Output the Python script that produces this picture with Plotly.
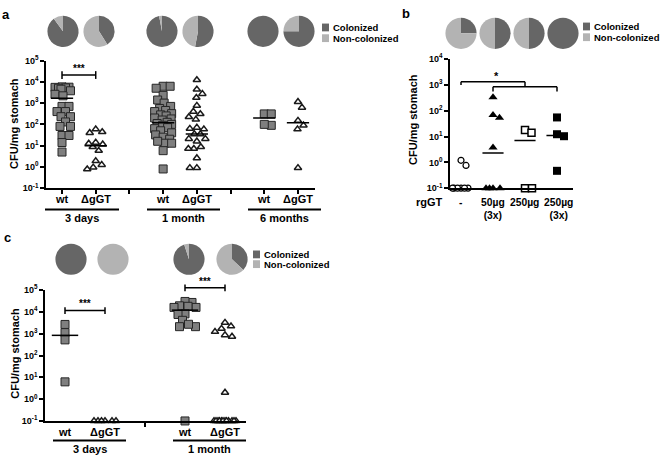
import math
import numpy as np
import plotly.graph_objects as go

W, H = 660, 462
FONT = "Liberation Sans"
DARK = "#666666"
LIGHT = "#b3b3b3"

# ---------------- data ----------------
# panel a : CFU/mg stomach
a_ticklabels = ["wt", "ΔgGT", "wt", "ΔgGT", "wt", "ΔgGT"]
a_groups = ["3 days", "1 month", "6 months"]
a_wt_3d = [5800, 5600, 5500, 5200, 5000, 4500, 3800, 2600, 2200, 700, 700, 400, 400,
           230, 230, 130, 80, 80, 30, 30, 14, 5]
a_dg_3d = [59, 40, 44, 11.5, 14, 12.5, 8.7, 5.8, 1.26, 1.9, 0.95, 0.78]
a_wt_1m = [6200, 5000, 6200, 2300, 1400, 1000, 700, 560, 450, 400, 320, 280, 250, 200,
           180, 160, 125, 110, 100, 90, 70, 63, 50, 40, 32, 25, 20, 13, 16, 13, 5.8, 0.8]
a_dg_1m = [12300, 4400, 2750, 1800, 760, 400, 310, 224, 170, 71, 63, 59, 35, 35, 21, 21,
           16, 8.7, 7.2, 7.2, 2.6, 0.9, 0.9]
a_wt_6m = [310, 310, 90, 100]
a_dg_6m = [1150, 620, 150, 90, 59, 0.9]
a_medians = [1700, 10, 120, 35, 200, 120]
a_pie_col = [90, 41, 97, 53, 100, 75]          # % colonized

# panel b
b_ticklabels = ["-", "50µg<br>(3x)", "250µg", "250µg<br>(3x)"]
b_none = [1.2, 0.76, 0.1, 0.1, 0.1, 0.1, 0.1, 0.1]
b_50x3 = [330, 68, 53, 3.8, 0.1, 0.1, 0.1, 0.1]
b_250 = [18, 14, 0.1, 0.1]
b_250x3 = [55, 12.3, 10.3, 0.47]
b_medians = [None, 2.3, 7, 11]
b_pie_col = [25, 50, 50, 100]

# panel c
c_ticklabels = ["wt", "ΔgGT", "wt", "ΔgGT"]
c_groups = ["3 days", "1 month"]
c_wt_3d = [2650, 1120, 520, 6.2]
c_dg_3d = [0.1, 0.1, 0.1, 0.1, 0.1, 0.1]
c_wt_1m = [27000, 30000, 16000, 18000, 19000, 16000, 8100, 7600, 4100, 2100, 2100, 2700, 0.1]
c_dg_1m = [2200, 1700, 3200, 1230, 740, 870, 2.0,
           0.1, 0.1, 0.1, 0.1, 0.1, 0.1, 0.1, 0.1, 0.1, 0.1, 0.1, 0.1]
c_medians = [840, None, 12000, None]
c_pie_col = [100, 0, 95, 37]

# ---------------- geometry helpers ----------------
PA = dict(x0=46, x1=315, xr=(-0.475, 7.505), yb=186, yt=55, yr=(-1, 5), xa="x", ya="y")
PB = dict(x0=450, x1=573, xr=(-0.344, 3.5), yb=186, yt=53.5, yr=(-1, 4), xa="x2", ya="y2")
PC = dict(x0=45, x1=246, xr=(-0.5, 4.525), yb=425, yt=290.6, yr=(-1, 5), xa="x3", ya="y3")


def X(px):
    return px / W


def Y(py):
    return 1 - py / H


def ppx(P):
    return (P["x1"] - P["x0"]) / (P["xr"][1] - P["xr"][0])


def ppy(P):
    return (P["yb"] - P["yt"]) / (P["yr"][1] - P["yr"][0])


def xpaper(P, xv):
    return X(P["x0"] + (xv - P["xr"][0]) * ppx(P))


def ypaper(P, v):
    return Y(P["yb"] - (math.log10(v) - P["yr"][0]) * ppy(P))


def swarm(vals, P, diam=7.0, maxw=8.5):
    sx, sy = ppx(P), ppy(P)
    ys = [math.log10(v) * sy for v in vals]
    order = sorted(range(len(vals)), key=lambda i: -vals[i])
    cands = np.arange(-maxw, maxw + 0.01, 0.5)
    placed = []
    off = [0.0] * len(vals)
    last = 1
    for i in order:
        scores = []
        for c in cands:
            md = min([math.hypot(c - p[0], ys[i] - p[1]) for p in placed], default=1e9)
            scores.append(md)
        free = [(abs(c), -last * np.sign(c), c) for c, s in zip(cands, scores) if s >= diam]
        if free:
            free.sort()
            best = free[0][2]
        else:
            best = cands[int(np.argmax(scores))]
        if best != 0:
            last = np.sign(best)
        off[i] = best / sx
        placed.append((best, ys[i]))
    return off


fig = go.Figure()

GRAY_SQ = dict(symbol="square", size=8, color="#7f7f7f", line=dict(color="#262626", width=1))
OPEN_TRI = dict(symbol="triangle-up", size=6.5, color="white", line=dict(color="#1a1a1a", width=1.5))


def add_points(vals, pos, P, marker, maxw=8.5):
    off = swarm(vals, P, maxw=maxw)
    fig.add_trace(go.Scatter(x=[pos + o for o in off], y=vals, mode="markers", marker=marker,
                             xaxis=P["xa"], yaxis=P["ya"], cliponaxis=False,
                             showlegend=False, hoverinfo="skip"))


def add_median(val, pos, P, half=0.33):
    if val is None:
        return
    fig.add_trace(go.Scatter(x=[pos - half, pos + half], y=[val, val], mode="lines",
                             line=dict(color="black", width=1.5), xaxis=P["xa"], yaxis=P["ya"],
                             showlegend=False, hoverinfo="skip"))


# panel a
for vals, pos, mk in [(a_wt_3d, 0, GRAY_SQ), (a_dg_3d, 1, OPEN_TRI), (a_wt_1m, 3, GRAY_SQ),
                      (a_dg_1m, 4, OPEN_TRI), (a_wt_6m, 6, GRAY_SQ), (a_dg_6m, 7, OPEN_TRI)]:
    add_points(vals, pos, PA, mk)
for m, pos in zip(a_medians, [0, 1, 3, 4, 6, 7]):
    add_median(m, pos, PA)

# panel b
add_points(b_none, 0, PB, dict(symbol="circle", size=6, color="white", line=dict(color="black", width=1.2)))
add_points(b_50x3, 1, PB, dict(symbol="triangle-up", size=8, color="black"))
add_points(b_250, 2, PB, dict(symbol="square", size=7, color="white", line=dict(color="black", width=1.5)))
add_points(b_250x3, 3, PB, dict(symbol="square", size=8, color="black"))
for m, pos in zip(b_medians, [0, 1, 2, 3]):
    add_median(m, pos, PB)

# panel c
for vals, pos, mk in [(c_wt_3d, 0, GRAY_SQ), (c_dg_3d, 1, OPEN_TRI),
                      (c_wt_1m, 3, GRAY_SQ), (c_dg_1m, 4, OPEN_TRI)]:
    add_points(vals, pos, PC, mk, maxw=11)
for m, pos in zip(c_medians, [0, 1, 3, 4]):
    add_median(m, pos, PC)


# pies
def add_pie(cx, cy, col, r=16):
    fig.add_trace(go.Pie(values=[col, 100 - col], labels=["Colonized", "Non-colonized"],
                         marker=dict(colors=[DARK, LIGHT], line=dict(width=0)),
                         sort=False, direction="clockwise", rotation=0, textinfo="none",
                         hoverinfo="skip", showlegend=False,
                         domain=dict(x=[X(cx - r), X(cx + r)], y=[Y(cy + r), Y(cy - r)])))


for cx, col in zip([63, 99, 162, 198, 263, 299], a_pie_col):
    add_pie(cx, 25, col)
for cx, col in zip([461, 495, 529, 563], b_pie_col):
    add_pie(cx, 27, col)
for cx, col in zip([71, 113, 189, 232], c_pie_col):
    add_pie(cx, 259, col)

# ---------------- axes ----------------
YTF = dict(family=FONT, size=9, color="black", weight="bold")


def yaxis_for(P, exps):
    return dict(domain=[Y(P["yb"]), Y(P["yt"])], type="log", range=list(P["yr"]),
                tickvals=[10 ** e for e in exps],
                ticktext=["10<sup>%d</sup>" % e for e in exps],
                ticks="outside", ticklen=4, tickwidth=1.5, tickcolor="black",
                showline=True, linecolor="black", linewidth=1.5,
                showgrid=False, zeroline=False, tickfont=YTF, anchor=P["xa"])


def xaxis_for(P, vals, ticks):
    return dict(domain=[X(P["x0"]), X(P["x1"])], range=list(P["xr"]),
                tickvals=vals, ticks=ticks, ticklen=4, tickwidth=1.5, showticklabels=False,
                tickcolor="black", showline=True, linecolor="black", linewidth=1.5,
                showgrid=False, zeroline=False, anchor=P["ya"])


fig.update_layout(
    width=W, height=H, margin=dict(l=0, r=0, t=0, b=0),
    paper_bgcolor="white", plot_bgcolor="white", hovermode=False,
    font=dict(family=FONT, color="black"),
    xaxis=xaxis_for(PA, list(range(8)), "outside"),
    yaxis=yaxis_for(PA, [-1, 0, 1, 2, 3, 4, 5]),
    xaxis2=xaxis_for(PB, [0, 1, 2, 3], ""),
    yaxis2=yaxis_for(PB, [-1, 0, 1, 2, 3, 4]),
    xaxis3=xaxis_for(PC, [2], "outside"),
    yaxis3=yaxis_for(PC, [-1, 0, 1, 2, 3, 4, 5]),
)

shapes = []
ann = []
BF = lambda s: dict(family=FONT, size=s, color="black", weight="bold")


def line(x0, y0, x1, y1, w=1.5):
    shapes.append(dict(type="line", xref="paper", yref="paper", x0=x0, y0=y0, x1=x1, y1=y1,
                       line=dict(color="black", width=w)))


def text(x, y, s, size=11, xanchor="center", angle=0, yanchor="middle", xref="paper"):
    ann.append(dict(x=x, y=y, xref=xref, yref="paper", text=s, showarrow=False,
                    font=BF(size), xanchor=xanchor, yanchor=yanchor, textangle=angle))


# x tick labels (category names under each column)
for pos, lab in zip([0, 1, 3, 4, 6, 7], a_ticklabels):
    text(pos, Y(197), lab, 11, xref="x")
for pos, lab, sh in zip([0, 1, 2, 3], b_ticklabels, [0, 0, -0.01, 0.06]):
    text(pos + sh, Y(193), lab, 10.3, xref="x2", yanchor="top")
for pos, lab in zip([0, 1, 3, 4], c_ticklabels):
    text(pos, Y(436), lab, 11, xref="x3")

# group underlines + labels
for (l, r), g in zip([(45, 119), (147, 220), (248, 321)], a_groups):
    line(X(l), Y(208), X(r), Y(208), 2)
    text(X((l + r) / 2), Y(217), g)
for (l, r), g in zip([(53, 126), (173, 246)], c_groups):
    line(X(l), Y(445), X(r), Y(445), 2)
    text(X((l + r) / 2), Y(454), g)


# significance brackets (capped)
def capped(P, x0, x1, level, cap_px, stars):
    y = ypaper(P, level)
    c = cap_px / H
    line(xpaper(P, x0), y, xpaper(P, x1), y)
    line(xpaper(P, x0), y - c, xpaper(P, x0), y + c)
    line(xpaper(P, x1), y - c, xpaper(P, x1), y + c)
    text((xpaper(P, x0) + xpaper(P, x1)) / 2, y + 7 / H, stars, 10)


capped(PA, 0, 1, 10 ** 4.32, 4, "***")
capped(PC, 0, 1, 10 ** 4.06, 3.5, "***")
capped(PC, 3, 4, 10 ** 5.1, 3.5, "***")

# panel b hanging brackets
yb1 = ypaper(PB, 10 ** 3.125)
yb2 = ypaper(PB, 10 ** 2.925)
line(xpaper(PB, 0), yb1, xpaper(PB, 2), yb1)
line(xpaper(PB, 0), yb1, xpaper(PB, 0), ypaper(PB, 10 ** 3.0))
line(xpaper(PB, 2), yb1, xpaper(PB, 2), yb2)
line(xpaper(PB, 1), yb2, xpaper(PB, 3), yb2)
line(xpaper(PB, 1), yb2, xpaper(PB, 1), ypaper(PB, 10 ** 2.75))
line(xpaper(PB, 3), yb2, xpaper(PB, 3), ypaper(PB, 10 ** 2.75))
text(xpaper(PB, 1.12), yb1 + 6 / H, "*", 11)

# axis titles
text(X(14), Y(120), "CFU/mg stomach", 11, angle=-90)
text(X(413), Y(116), "CFU/mg stomach", 11, angle=-90)
text(X(15), Y(356), "CFU/mg stomach", 11, angle=-90)
text(X(429), Y(200), "rgGT", 11)

# panel letters
text(X(6), Y(8), "a", 13)
text(X(406), Y(7), "b", 13)
text(X(7), Y(237), "c", 13)


# legends
def legend(x, y1, y2):
    for yy, col, lab in [(y1, DARK, "Colonized"), (y2, LIGHT, "Non-colonized")]:
        shapes.append(dict(type="rect", xref="paper", yref="paper", x0=X(x), x1=X(x + 7),
                           y0=Y(yy + 4), y1=Y(yy - 4), fillcolor=col, line=dict(width=0)))
        text(X(x + 9), Y(yy), lab, 9.5, xanchor="left")


legend(322, 21, 32)
legend(583, 20, 31)
legend(253, 254, 264)

fig.update_layout(shapes=shapes, annotations=ann)
fig.write_html("out.html", config={"displayModeBar": False},
               post_script="document.body.style.margin='0px';")
